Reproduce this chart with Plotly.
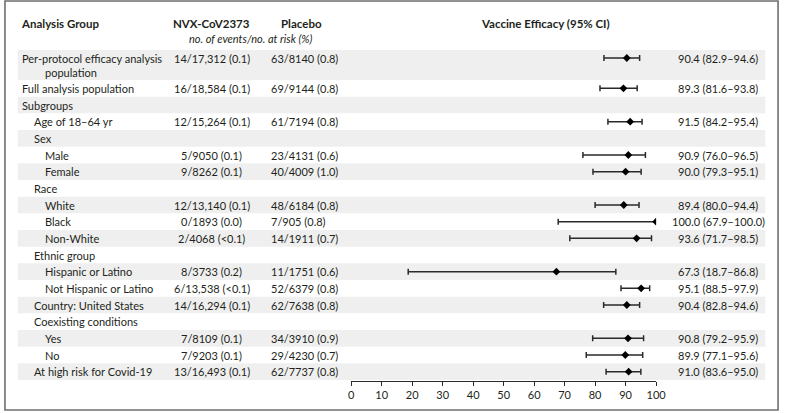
import plotly.graph_objects as go

# ---------------- data ----------------
labels = [
    "Per-protocol efficacy analysis\npopulation",
    "Full analysis population",
    "Subgroups",
    "Age of 18–64 yr",
    "Sex",
    "Male",
    "Female",
    "Race",
    "White",
    "Black",
    "Non-White",
    "Ethnic group",
    "Hispanic or Latino",
    "Not Hispanic or Latino",
    "Country: United States",
    "Coexisting conditions",
    "Yes",
    "No",
    "At high risk for Covid-19",
]
levels = [0, 0, 0, 1, 1, 2, 2, 1, 2, 2, 2, 1, 2, 2, 1, 1, 2, 2, 1]
nvx = [
    "14/17,312 (0.1)", "16/18,584 (0.1)", "", "12/15,264 (0.1)", "",
    "5/9050 (0.1)", "9/8262 (0.1)", "", "12/13,140 (0.1)", "0/1893 (0.0)",
    "2/4068 (<0.1)", "", "8/3733 (0.2)", "6/13,538 (<0.1)", "14/16,294 (0.1)",
    "", "7/8109 (0.1)", "7/9203 (0.1)", "13/16,493 (0.1)",
]
placebo = [
    "63/8140 (0.8)", "69/9144 (0.8)", "", "61/7194 (0.8)", "",
    "23/4131 (0.6)", "40/4009 (1.0)", "", "48/6184 (0.8)", "7/905 (0.8)",
    "14/1911 (0.7)", "", "11/1751 (0.6)", "52/6379 (0.8)", "62/7638 (0.8)",
    "", "34/3910 (0.9)", "29/4230 (0.7)", "62/7737 (0.8)",
]
ve = [90.4, 89.3, None, 91.5, None, 90.9, 90.0, None, 89.4, 100.0,
      93.6, None, 67.3, 95.1, 90.4, None, 90.8, 89.9, 91.0]
ci_lo = [82.9, 81.6, None, 84.2, None, 76.0, 79.3, None, 80.0, 67.9,
         71.7, None, 18.7, 88.5, 82.8, None, 79.2, 77.1, 83.6]
ci_hi = [94.6, 93.8, None, 95.4, None, 96.5, 95.1, None, 94.4, 100.0,
         98.5, None, 86.8, 97.9, 94.6, None, 95.9, 95.6, 95.0]
x_ticks = [0, 10, 20, 30, 40, 50, 60, 70, 80, 90, 100]

# ---------------- layout helpers ----------------
W, H = 791, 413
U = 300 / 18.0          # pixel height of one row
TOP = 80                # pixel y of top of first single row


def px_to_row(p):
    return (p - TOP) / U


def px_x(p):
    return p / W


FONT = "Lato"
TXT = "#231f20"

# row centers (row 0 is the double-height row)
centers = []
for i in range(len(labels)):
    if i == 0:
        centers.append(px_to_row(58))
    else:
        centers.append(i - 0.5)

fig = go.Figure()

# shaded bands
shapes = []
for i in range(len(labels)):
    if i % 2 == 0:
        if i == 0:
            y0, y1 = px_to_row(50), 0
        else:
            y0, y1 = i - 1, i
        shapes.append(dict(type="rect", xref="paper", yref="y",
                           x0=px_x(15), x1=px_x(775), y0=y0, y1=y1,
                           fillcolor="#efefef", line=dict(width=0),
                           layer="below"))
# frame
shapes.append(dict(type="rect", xref="paper", yref="paper",
                   x0=px_x(2), x1=px_x(788), y0=1 - 410 / H, y1=1 - 1 / H,
                   line=dict(color="#6e6e6e", width=1.6),
                   fillcolor="rgba(0,0,0,0)", layer="above"))

annotations = []


def add_text(text, xpx, y, anchor="left", bold=False, italic=False, size=11):
    t = text
    if bold:
        t = "<b>" + t + "</b>"
    if italic:
        t = "<i>" + t + "</i>"
    annotations.append(dict(text=t, x=px_x(xpx), y=y, xref="paper", yref="y",
                            xanchor=anchor, yanchor="middle", showarrow=False,
                            font=dict(family=FONT, size=size, color=TXT)))


indent_px = [17, 29, 41]
for i, lab in enumerate(labels):
    parts = lab.split("\n")
    add_text(parts[0], indent_px[levels[i]], centers[i])
    for j, p in enumerate(parts[1:]):
        add_text(p, indent_px[min(levels[i] + 2, 2)], px_to_row(72 + 14 * j))
    if nvx[i]:
        add_text(nvx[i], 212, centers[i], anchor="center")
    if placebo[i]:
        add_text(placebo[i], 270, centers[i], anchor="left")
    if ve[i] is not None:
        add_text(f"{ve[i]:.1f} ({ci_lo[i]:.1f}–{ci_hi[i]:.1f})", 727,
                 centers[i], anchor="center")

# headers
add_text("Analysis Group", 16, px_to_row(23), bold=True, size=11.5)
add_text("NVX-CoV2373", 212, px_to_row(23), anchor="center", bold=True,
         size=11.5)
add_text("Placebo", 303, px_to_row(23), anchor="center", bold=True, size=11.5)
add_text("no. of events/no. at risk (%)", 252, px_to_row(38), anchor="center",
         italic=True)
add_text("Vaccine Efficacy (95% CI)", 552, px_to_row(23), anchor="center",
         bold=True, size=11.5)

# forest points
xs, ys, ep, em = [], [], [], []
for i in range(len(labels)):
    if ve[i] is None:
        continue
    xs.append(ve[i])
    ys.append(centers[i])
    ep.append(ci_hi[i] - ve[i])
    em.append(ve[i] - ci_lo[i])

fig.add_trace(go.Scatter(
    x=xs, y=ys, mode="markers",
    marker=dict(symbol="diamond", size=6, color="#000000"),
    error_x=dict(type="data", symmetric=False, array=ep, arrayminus=em,
                 color="#2a2a2a", thickness=1.5, width=3),
    showlegend=False, hoverinfo="skip",
))

fig.update_layout(
    width=W, height=H,
    margin=dict(l=0, r=0, t=0, b=0),
    paper_bgcolor="white", plot_bgcolor="rgba(0,0,0,0)",
    shapes=shapes, annotations=annotations,
    xaxis=dict(domain=[354 / W, 664 / W], range=[0, 100], anchor="free",
               position=1 - 381 / H, showline=True, linecolor="#2a2a2a",
               linewidth=1, ticks="outside", ticklen=4, tickcolor="#2a2a2a",
               tickvals=x_ticks, showgrid=False, zeroline=False,
               tickfont=dict(family=FONT, size=11, color=TXT), fixedrange=True),
    yaxis=dict(domain=[0, 1], range=[px_to_row(H), px_to_row(0)],
               visible=False, fixedrange=True),
)

fig.write_html(
    "out.html",
    config={"displayModeBar": False},
    post_script="document.body.style.margin='0px';"
                "document.body.style.padding='0px';"
                "document.body.style.overflow='hidden';",
)
